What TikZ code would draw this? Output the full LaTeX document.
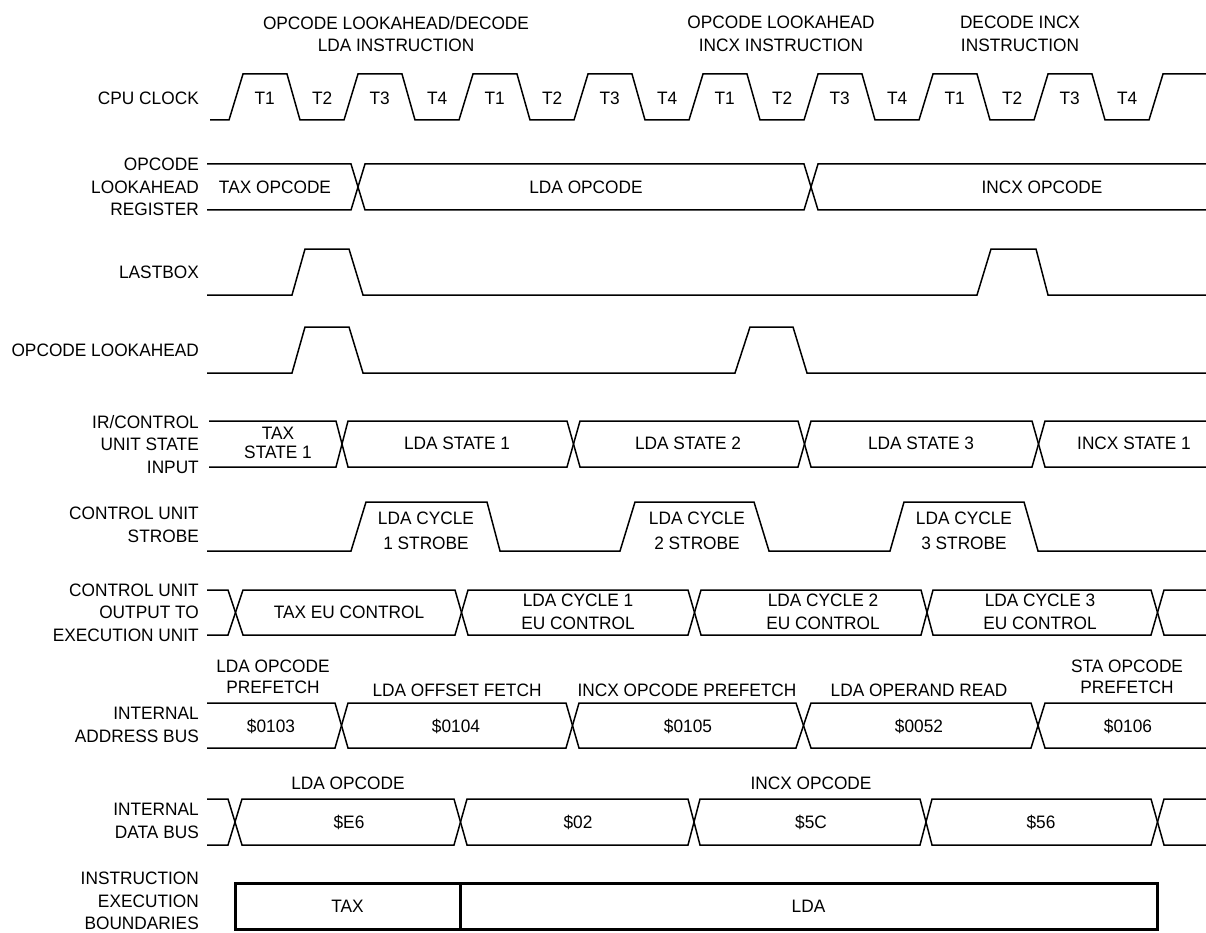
\documentclass[tikz,border=0pt]{standalone}
\usepackage{fontspec}
\setmainfont{Liberation Sans}[FakeStretch=0.96]
\usetikzlibrary{positioning}

\begin{document}
\begin{tikzpicture}[
  x=1pt, y=-1pt,
  font=\fontsize{18}{22.5}\selectfont,
  sig/.style={line width=1.5pt},
  phase/.style={draw, line width=3pt, minimum height=46pt, inner sep=0pt},
  txt/.style={inner sep=0pt, align=center},
  rowname/.style={inner sep=0pt, align=right, anchor=east}
]
\useasboundingbox (0,0) rectangle (1206,933);

% headings over the clock
\node[txt] (hdlda) at (396,34) {OPCODE LOOKAHEAD/DECODE\\LDA INSTRUCTION};
\node[txt] (hdincx) at (781,34) {OPCODE LOOKAHEAD\\INCX INSTRUCTION};
\node[txt] (hddec) at (1020,34) {DECODE INCX\\INSTRUCTION};

% signal names
\node[rowname] (nclk) at (199,98) {CPU CLOCK};
\node[rowname] (nreg) at (199,187) {OPCODE\\LOOKAHEAD\\REGISTER};
\node[rowname] (nlast) at (199,272) {LASTBOX};
\node[rowname] (nlook) at (199,350) {OPCODE LOOKAHEAD};
\node[rowname] (nir) at (199,444.5) {IR/CONTROL\\UNIT STATE\\INPUT};
\node[rowname] (nstrobe) at (199,525) {CONTROL UNIT\\STROBE};
\node[rowname] (ncuout) at (199,612.5) {CONTROL UNIT\\OUTPUT TO\\EXECUTION UNIT};
\node[rowname] (nabus) at (199,725) {INTERNAL\\ADDRESS BUS};
\node[rowname] (ndbus) at (199,821) {INTERNAL\\DATA BUS};
\node[rowname] (nbound) at (199,901) {INSTRUCTION\\EXECUTION\\BOUNDARIES};

% clock
\draw[sig] (210,120) foreach \k in {0,...,7} {
    -- ({229+115*\k},120) -- ({243+115*\k},74) -- ({287+115*\k},74) -- ({300+115*\k},120)}
  -- (1149,120) -- (1163,74) -- (1206,74);
\foreach \k [evaluate=\k as \n using {int(mod(\k,4)+1)}] in {0,...,15}
  \node[txt] (t\k) at ({264.75+57.5*\k},98) {T\n};

% opcode lookahead register
\draw[sig] (207,164) -- (351,164) -- (365,210) -- (804,210) -- (818,164) -- (1206,164);
\draw[sig] (207,210) -- (351,210) -- (365,164) -- (804,164) -- (818,210) -- (1206,210);
\node[txt] (regtax) at (275,187) {TAX OPCODE};
\node[txt] (reglda) at (586,187) {LDA OPCODE};
\node[txt] (regincx) at (1042,187) {INCX OPCODE};

% lastbox and opcode lookahead pulses
\draw[sig] (207,295) -- (292,295) -- (305,249) -- (349,249) -- (363,295)
  -- (977,295) -- (991,249) -- (1036,249) -- (1048,295) -- (1206,295);
\draw[sig] (207,373) -- (292,373) -- (305,327) -- (349,327) -- (363,373)
  -- (735,373) -- (750,327) -- (793,327) -- (807,373) -- (1206,373);

% IR / control unit state input
\draw[sig] (209,421) -- (336,421) -- (348,467) -- (567,467) -- (580,421) -- (798,421)
  -- (811,467) -- (1032,467) -- (1045,421) -- (1206,421);
\draw[sig] (209,467) -- (336,467) -- (348,421) -- (567,421) -- (580,467) -- (798,467)
  -- (811,421) -- (1032,421) -- (1045,467) -- (1206,467);
\node[txt] (sttax) at (278,443) {TAX\\[-3.5pt]STATE 1};
\node[txt] (stlda1) at (457,443) {LDA STATE 1};
\node[txt] (stlda2) at (688,443) {LDA STATE 2};
\node[txt] (stlda3) at (921,443) {LDA STATE 3};
\node[txt] (stincx) at (1134,443) {INCX STATE 1};

% control unit strobe
\draw[sig] (207,551) -- (351,551) -- (366,502) -- (487,502) -- (500,551)
  -- (620,551) -- (635,502) -- (754,502) -- (769,551)
  -- (890,551) -- (904,502) -- (1024,502) -- (1038,551) -- (1206,551);
\node[txt] (strb1) at (426,530.5) {LDA CYCLE\\[2.5pt]1 STROBE};
\node[txt] (strb2) at (697,530.5) {LDA CYCLE\\[2.5pt]2 STROBE};
\node[txt] (strb3) at (964,530.5) {LDA CYCLE\\[2.5pt]3 STROBE};

% control unit output to execution unit
\draw[sig] (207,590) -- (228,590) -- (243,635) -- (455,635) -- (468,590) -- (688,590)
  -- (701,635) -- (921,635) -- (933,590) -- (1151,590) -- (1164,635) -- (1206,635);
\draw[sig] (207,635) -- (228,635) -- (243,590) -- (455,590) -- (468,635) -- (688,635)
  -- (701,590) -- (921,590) -- (933,635) -- (1151,635) -- (1164,590) -- (1206,590);
\node[txt] (eutax) at (349,612) {TAX EU CONTROL};
\node[txt] (eu1) at (578,612) {LDA CYCLE 1\\EU CONTROL};
\node[txt] (eu2) at (823,612) {LDA CYCLE 2\\EU CONTROL};
\node[txt] (eu3) at (1040,612) {LDA CYCLE 3\\EU CONTROL};

% internal address bus
\draw[sig] (207,703) -- (335,703) -- (348,748) -- (566,748) -- (579,703) -- (796,703)
  -- (811,748) -- (1031,748) -- (1045,703) -- (1206,703);
\draw[sig] (207,748) -- (335,748) -- (348,703) -- (566,703) -- (579,748) -- (796,748)
  -- (811,703) -- (1031,703) -- (1045,748) -- (1206,748);
\node[txt] (a0103) at (271,726) {\$0103};
\node[txt] (a0104) at (456,726) {\$0104};
\node[txt] (a0105) at (688,726) {\$0105};
\node[txt] (a0052) at (919,726) {\$0052};
\node[txt] (a0106) at (1128,726) {\$0106};
\node[txt] (cyc1) at (273,676.5) {LDA OPCODE\\[-1.5pt]PREFETCH};
\node[txt] (cyc2) at (457,690) {LDA OFFSET FETCH};
\node[txt] (cyc3) at (687,690) {INCX OPCODE PREFETCH};
\node[txt] (cyc4) at (919,690) {LDA OPERAND READ};
\node[txt] (cyc5) at (1127,676.5) {STA OPCODE\\[-1.5pt]PREFETCH};

% internal data bus
\draw[sig] (207,799) -- (228,799) -- (242,845) -- (454,845) -- (467,799) -- (688,799)
  -- (700,845) -- (920,845) -- (932,799) -- (1151,799) -- (1164,845) -- (1206,845);
\draw[sig] (207,845) -- (228,845) -- (242,799) -- (454,799) -- (467,845) -- (688,845)
  -- (700,799) -- (920,799) -- (932,845) -- (1151,845) -- (1164,799) -- (1206,799);
\node[txt] (dE6) at (349,822) {\$E6};
\node[txt] (d02) at (578,822) {\$02};
\node[txt] (d5C) at (811,822) {\$5C};
\node[txt] (d56) at (1041,822) {\$56};
\node[txt] (dlda) at (348,783) {LDA OPCODE};
\node[txt] (dincx) at (811,783) {INCX OPCODE};

% instruction execution boundaries
\node[phase, minimum width=225pt] (tax) at (347.5,906) {TAX};
\node[phase, minimum width=697pt] (lda) at (808.5,906) {LDA};

\end{tikzpicture}
\end{document}
